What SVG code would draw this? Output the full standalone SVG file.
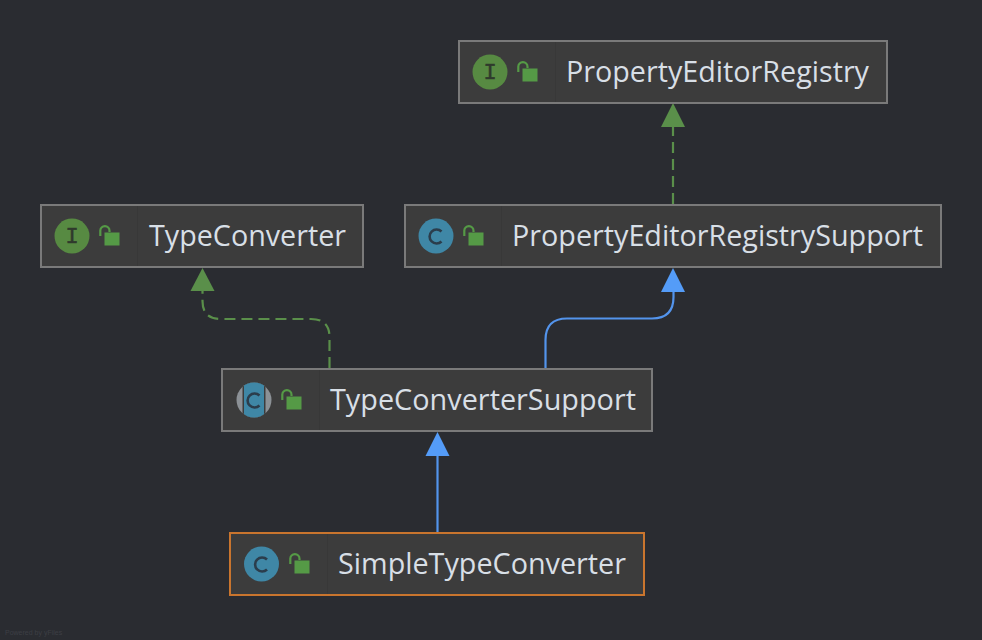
<svg xmlns="http://www.w3.org/2000/svg" width="982" height="640" viewBox="0 0 982 640">
<style>
.box{fill:#3c3c3c;stroke:#7a7a7a;stroke-width:2}
.sel{stroke:#c9752e}
.div{stroke:#383838;stroke-width:1}
.t{font-family:"Open Sans","Noto Sans","Liberation Sans",sans-serif;font-size:28.5px;fill:#d8dfe6}
.edge{fill:none;stroke-width:2.2}
.impl{stroke:#5a8f4a;stroke-dasharray:11 6}
.ext{stroke:#5394ec}
.gh{fill:#5a8f4a}
.bh{fill:#549cf8}
.ci{fill:#578a42}
.cc{fill:#3f87a6}
.gl{font-family:"Liberation Mono",monospace;font-size:22px;fill:#2f3a2c;text-anchor:middle;stroke:#2f3a2c;stroke-width:.5}
.cg{fill:none;stroke:#2b3d4c;stroke-width:2.6}
.lk{fill:#559a46}
.sh{fill:none;stroke:#559a46;stroke-width:2.2}
</style>
<defs>
<clipPath id="ab"><circle cx="254" cy="400" r="17.5"/></clipPath>
<g id="lock"><rect class="lk" x="5.500" y="5.500" width="15" height="13"/><path class="sh" d="M1.300 9V3.800a4.600 4.600 0 0 1 9.200 0V5"/></g>
<g id="iface"><circle class="ci" r="17.500"/><text class="gl" y="7">I</text></g>
<g id="cls"><circle class="cc" r="17.500"/><path class="cg" d="M5.500 -4.500A7 7 0 1 0 5.500 5.500"/></g>
</defs>
<rect width="982" height="640" fill="#2a2c31"/>
<g id="connectors">
<path class="edge impl" d="M673 204V126"/>
<path class="gh" d="M673 103l12 24h-24z"/>
<path class="edge impl" d="M329.500 368V337Q329.500 319 311 319H221Q202.500 319 202.500 301V290"/>
<path class="gh" d="M202.500 268l12 23h-24z"/>
<path class="edge ext" d="M545.500 368V340Q545.500 318.500 567 318.500H652Q673.500 318.500 673.500 297V290"/>
<path class="bh" d="M673 268l12 24h-24z"/>
<path class="edge ext" d="M437.500 532V454"/>
<path class="bh" d="M437.500 432l12 24h-24z"/>
</g>
<g id="PropertyEditorRegistry">
<rect class="box" x="459" y="41" width="428" height="62"/>
<path class="div" d="M555.500 42V102"/>
<use href="#iface" x="490" y="72"/>
<use href="#lock" x="517" y="63"/>
<text class="t" x="566" y="82" textLength="303" lengthAdjust="spacingAndGlyphs">PropertyEditorRegistry</text>
</g>
<g id="TypeConverter">
<rect class="box" x="41" y="205" width="322" height="62"/>
<path class="div" d="M137.500 206V266"/>
<use href="#iface" x="72" y="236"/>
<use href="#lock" x="99" y="227"/>
<text class="t" x="149" y="246" textLength="197" lengthAdjust="spacingAndGlyphs">TypeConverter</text>
</g>
<g id="PropertyEditorRegistrySupport">
<rect class="box" x="405" y="205" width="536" height="62"/>
<path class="div" d="M501.500 206V266"/>
<use href="#cls" x="436" y="236"/>
<use href="#lock" x="463" y="227"/>
<text class="t" x="512" y="246" textLength="411" lengthAdjust="spacingAndGlyphs">PropertyEditorRegistrySupport</text>
</g>
<g id="TypeConverterSupport">
<rect class="box" x="222" y="369" width="430" height="62"/>
<path class="div" d="M319.500 370V430"/>
<g clip-path="url(#ab)">
<rect x="236" y="382" width="36" height="36" fill="#8c9196"/>
<rect x="242.500" y="382" width="23" height="36" fill="#3c3c3c"/>
<rect x="244" y="382" width="20" height="36" class="cc"/>
</g>
<path class="cg" d="M259.500 395.500A7 7 0 1 0 259.500 405.500"/>
<use href="#lock" x="281" y="391"/>
<text class="t" x="330" y="410" textLength="306" lengthAdjust="spacingAndGlyphs">TypeConverterSupport</text>
</g>
<g id="SimpleTypeConverter">
<rect class="box sel" x="230" y="533" width="414" height="62"/>
<path class="div" d="M327.500 534V594"/>
<use href="#cls" x="261.500" y="564"/>
<use href="#lock" x="289" y="555"/>
<text class="t" x="338" y="574" textLength="288" lengthAdjust="spacingAndGlyphs">SimpleTypeConverter</text>
</g>
<text x="5" y="635" font-family="'Liberation Sans',sans-serif" font-size="7px" fill="#3d3f45">Powered by yFiles</text>
</svg>
